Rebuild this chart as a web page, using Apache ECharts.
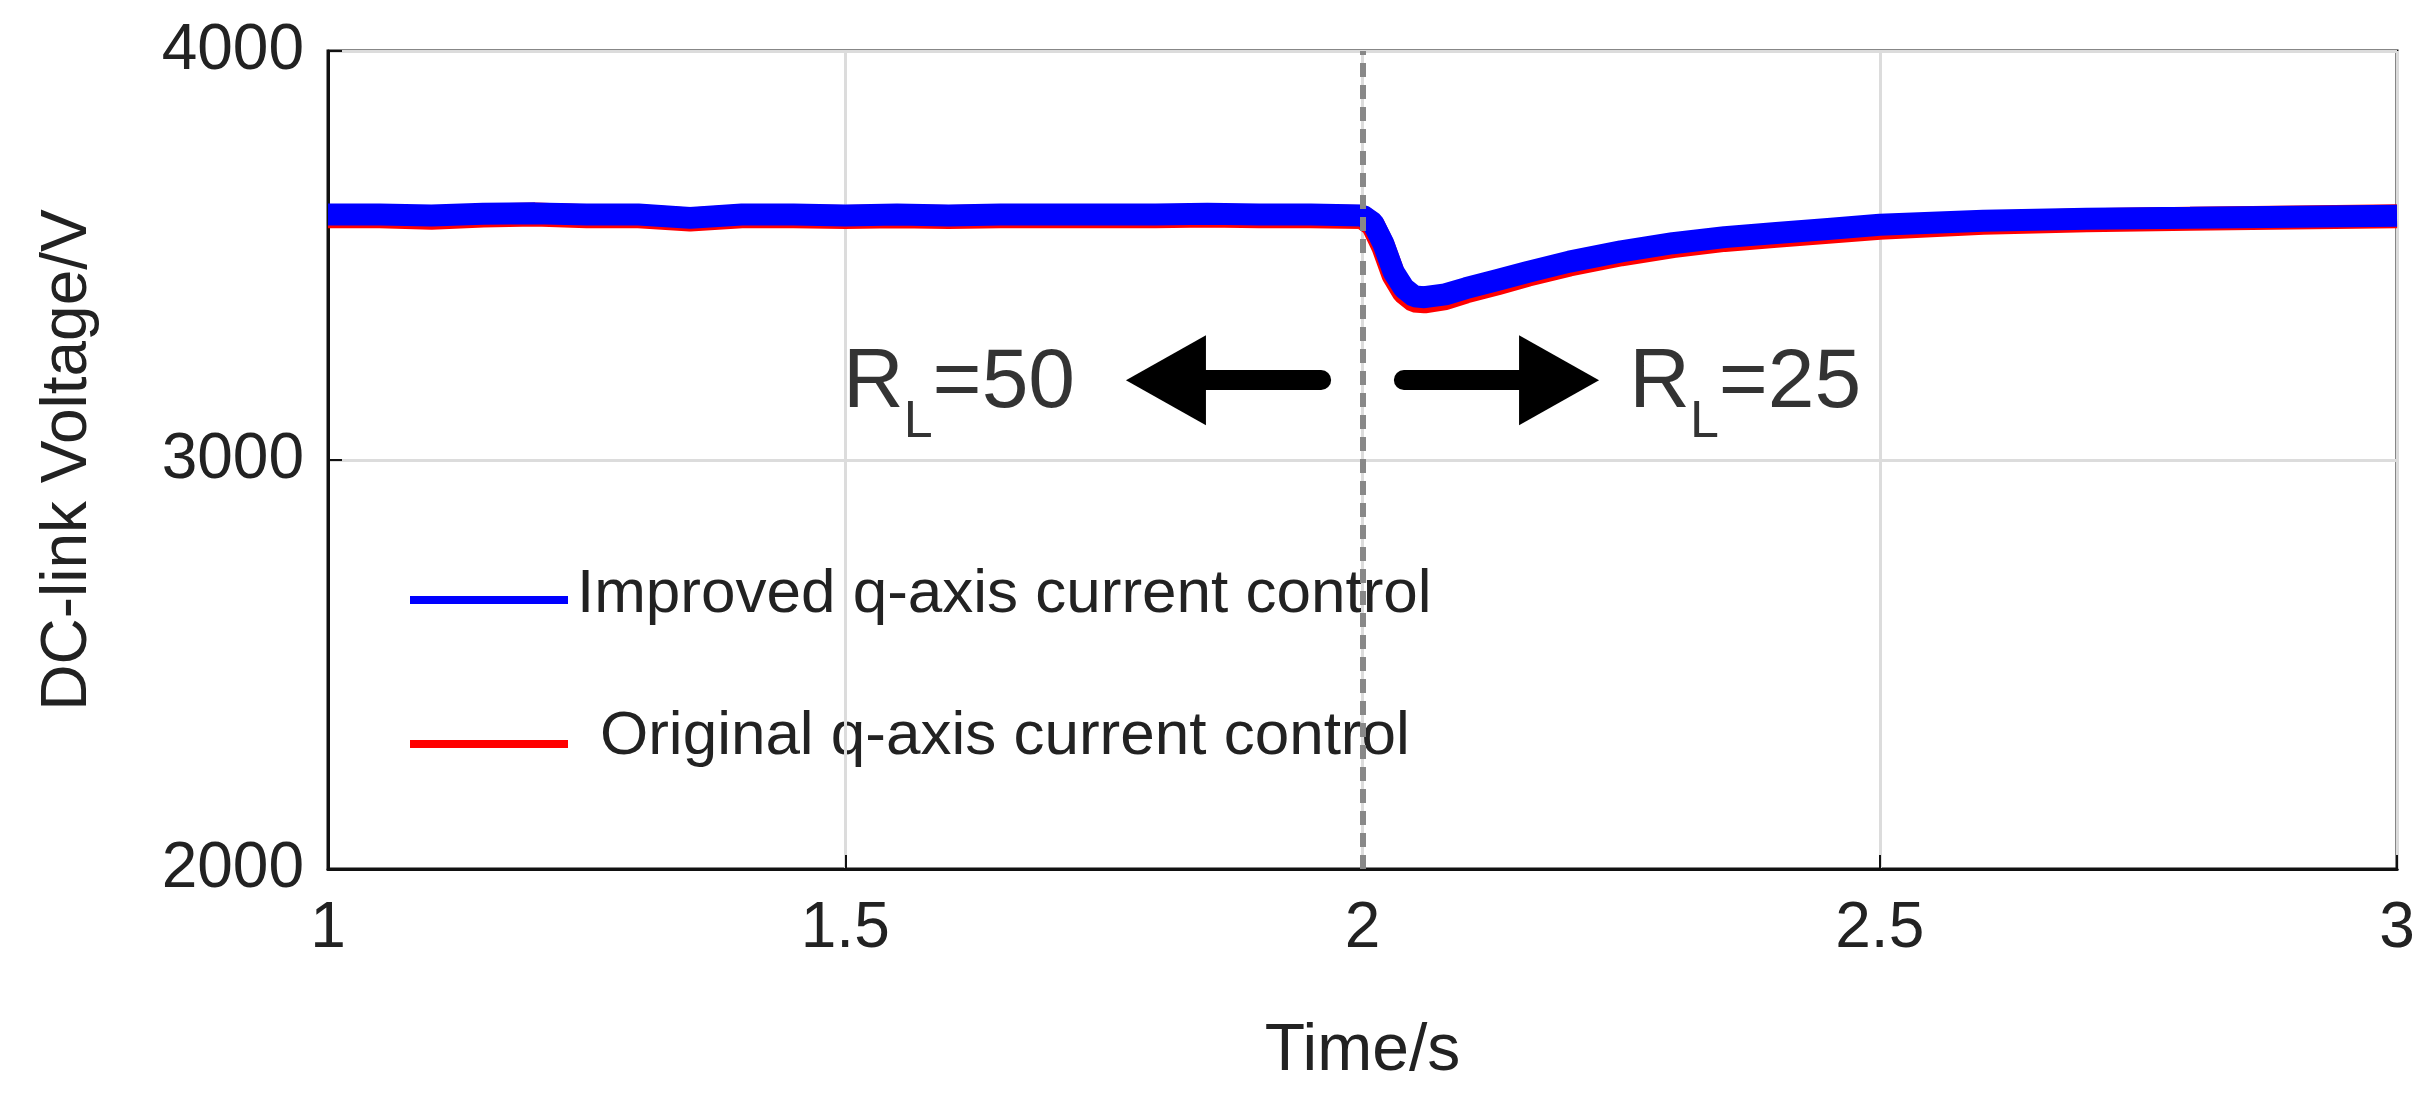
<!DOCTYPE html><html><head><meta charset="utf-8">
<script src="https://cdn.jsdelivr.net/npm/echarts@6/dist/echarts.min.js"></script>
<style>html,body{margin:0;background:#fff}#c{width:2433px;height:1119px}</style></head><body><div id="c"></div>
<script>
const timeS = [1.0,1.05,1.1,1.15,1.2,1.25,1.3,1.35,1.4,1.45,1.5,1.55,1.6,1.65,1.7,1.75,1.8,1.85,1.9,1.95,2.0,2.01,2.02,2.03,2.04,2.05,2.06,2.08,2.1,2.13,2.16,2.2,2.25,2.3,2.35,2.4,2.45,2.5,2.6,2.7,2.8,2.9,3.0];
const improved = [3600,3600,3598,3602,3603,3600,3600,3592,3600,3600,3598,3600,3598,3600,3600,3600,3600,3602,3600,3600,3598,3580,3530,3460,3420,3400,3398,3405,3420,3440,3460,3485,3510,3530,3545,3555,3565,3575,3585,3590,3592,3595,3597];
const original = [3596,3596,3592,3598,3600,3596,3596,3588,3596,3596,3594,3596,3594,3596,3596,3596,3596,3598,3596,3596,3594,3575,3522,3452,3410,3390,3388,3396,3412,3432,3453,3478,3503,3523,3538,3548,3558,3568,3580,3586,3590,3593,3596];
const xTicks = [1,1.5,2,2.5,3];
const yTicks = [2000,3000,4000];
const pair = a => timeS.map((t,i)=>[t,a[i]]);
const ch = echarts.init(document.getElementById('c'));
const F = 'Arial, "Liberation Sans", sans-serif';
const rich = {b:{fontSize:84,fontFamily:F,color:'#000'},s:{fontSize:52,fontFamily:F,color:'#000',verticalAlign:'bottom',padding:[0,0,-22,0]}};
ch.setOption({
  animation:false,
  grid:{left:328,right:36,top:51,bottom:250,show:true,borderColor:'#111',borderWidth:3},
  xAxis:{type:'value',min:1,max:3,interval:0.5,
    axisLine:{lineStyle:{color:'#111',width:3}},axisTick:{inside:true,length:14,lineStyle:{color:'#111',width:2}},
    splitLine:{lineStyle:{color:'#dcdcdc',width:3}},
    axisLabel:{fontSize:64,fontFamily:F,color:'#222',margin:28,formatter:v=>String(v)},
    name:'Time/s',nameLocation:'middle',nameGap:150,nameTextStyle:{fontSize:66,fontFamily:F,color:'#222'}},
  yAxis:{type:'value',min:2000,max:4000,interval:1000,
    axisLine:{lineStyle:{color:'#111',width:3}},axisTick:{inside:true,length:14,lineStyle:{color:'#111',width:2}},
    splitLine:{lineStyle:{color:'#dcdcdc',width:3}},
    axisLabel:{fontSize:64,fontFamily:F,color:'#222',margin:24,formatter:v=>String(v)},
    name:'DC-link Voltage/V',nameLocation:'middle',nameGap:228,nameTextStyle:{fontSize:64,fontFamily:F,color:'#222'}},
  series:[
    {type:'line',data:pair(original),showSymbol:false,lineStyle:{color:'#ff0000',width:24},z:2},
    {type:'line',data:pair(improved),showSymbol:false,lineStyle:{color:'#0000ff',width:22},z:3,
     markLine:{silent:true,symbol:'none',label:{show:false},lineStyle:{color:'#888',type:[14,8],width:6},data:[{xAxis:2}]}},
    {type:'line',data:[],markLine:{silent:true,symbol:['none','triangle'],symbolSize:[90,80],label:{show:false},
      lineStyle:{color:'#000',width:20,type:'solid',cap:'round'},
      data:[[{coord:[1.96,3195]},{coord:[1.81,3195]}],[{coord:[2.04,3195]},{coord:[2.19,3195]}]]},z:4},
    {type:'scatter',symbolSize:0,data:[[1.61,3185],[2.37,3185]],z:5,
     label:{show:true,position:'inside',formatter:p=>p.dataIndex===0?'{b|R}{s|L}{b|=50}':'{b|R}{s|L}{b|=25}',rich:rich}}
  ],
  graphic:[
    {type:'line',shape:{x1:410,y1:600,x2:568,y2:600},style:{stroke:'#0000ff',lineWidth:8}},
    {type:'text',left:577,top:564,style:{text:'Improved q-axis current control',font:'62px '+F,fill:'#222'}},
    {type:'line',shape:{x1:410,y1:744,x2:568,y2:744},style:{stroke:'#ff0000',lineWidth:8}},
    {type:'text',left:600,top:706,style:{text:'Original q-axis current control',font:'62px '+F,fill:'#222'}}
  ]
});
</script></body></html>
